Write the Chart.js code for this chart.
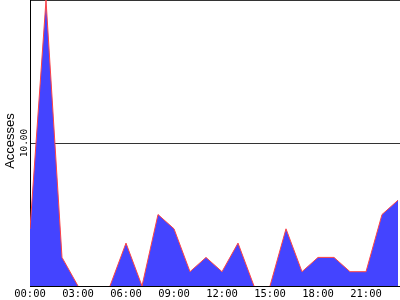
<!DOCTYPE html>
<html>
<head>
<meta charset="utf-8">
<script src="https://cdn.jsdelivr.net/npm/chart.js@4/dist/chart.umd.min.js"></script>
<style>
html,body{margin:0;padding:0;background:#fff;}
#wrap{width:400px;height:300px;}
</style>
</head>
<body>
<div id="wrap"><canvas id="c" width="400" height="300"></canvas></div>
<script>
const hours = [0,1,2,3,4,5,6,7,8,9,10,11,12,13,14,15,16,17,18,19,20,21,22,23];
const accesses = [4,20,2,0,0,0,3,0,5,4,1,2,1,3,0,0,4,1,2,2,1,1,5,6];
const xTickValues = [0,3,6,9,12,15,18,21];
const xTickLabels = ['00:00','03:00','06:00','09:00','12:00','15:00','18:00','21:00'];
const yGridValues = [0,10,20];
const yLabelValue = 10;
const yLabelText = '10.00';
const yTitle = 'Accesses';

const FILL = '#4444ff';
const LINE = '#ff4444';

const textPlugin = {
  id: 'rotText',
  afterDraw(chart) {
    const ctx = chart.ctx;
    const y = chart.scales.y;
    ctx.save();
    ctx.fillStyle = '#000';
    ctx.save();
    ctx.translate(14, 141);
    ctx.rotate(-Math.PI/2);
    ctx.font = '13px "Liberation Sans"';
    ctx.textAlign = 'center';
    ctx.textBaseline = 'alphabetic';
    ctx.fillText(yTitle, 0, 0);
    ctx.restore();
    ctx.save();
    ctx.translate(27, y.getPixelForValue(yLabelValue));
    ctx.rotate(-Math.PI/2);
    ctx.font = '9.5px "DejaVu Sans Mono"';
    ctx.textAlign = 'center';
    ctx.textBaseline = 'alphabetic';
    ctx.fillText(yLabelText, 0, 0);
    ctx.restore();
    ctx.restore();
  }
};

new Chart(document.getElementById('c'), {
  type: 'line',
  data: {
    datasets: [{
      data: hours.map((h,i)=>({x:h, y:accesses[i]})),
      fill: 'origin',
      backgroundColor: FILL,
      borderColor: LINE,
      borderWidth: 1,
      pointRadius: 0,
      tension: 0,
      segment: {
        borderColor: c => (c.p0.parsed.y === 0 && c.p1.parsed.y === 0) ? 'rgba(0,0,0,0)' : LINE
      }
    }]
  },
  options: {
    responsive: false,
    animation: false,
    devicePixelRatio: 1,
    layout: {padding: 0},
    plugins: {legend:{display:false}, tooltip:{enabled:false}},
    scales: {
      x: {
        type: 'linear',
        min: 0,
        max: 23.125,
        afterBuildTicks: s => { s.ticks = xTickValues.map(v=>({value:v})); },
        afterFit: s => { s.height = 14; },
        grid: {display:false, drawTicks:false},
        border: {display:true, color:'#000', width:1},
        ticks: {
          autoSkip:false, maxRotation:0, minRotation:0, padding:2,
          color:'#000',
          font:{family:'DejaVu Sans Mono', size:10.5},
          callback: v => { const i = xTickValues.indexOf(v); return i>=0 ? xTickLabels[i] : ''; }
        }
      },
      y: {
        min: 0,
        max: 20,
        afterBuildTicks: s => { s.ticks = yGridValues.map(v=>({value:v})); },
        afterFit: s => { s.width = 30; },
        grid: {display:true, drawTicks:false, color:'#333', lineWidth:1},
        border: {display:true, color:'#000', width:1},
        ticks: {display:false}
      }
    }
  },
  plugins: [textPlugin]
});
</script>
</body>
</html>
